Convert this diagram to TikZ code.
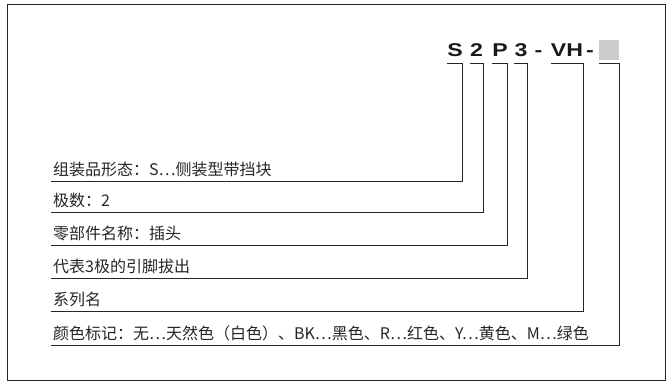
\documentclass[tikz,border=0pt]{standalone}
\usepackage{fontspec}
\setmainfont{Noto Sans CJK SC}
\newfontfamily\codefont{Liberation Sans}
\newcommand{\widecode}[1]{\scalebox{1.25}[1]{#1}}
\tikzset{
    code-char/.style = {inner sep=0pt, anchor=base, text height=13pt, text depth=7pt, font=\codefont\fontsize{18.5}{18.5}\selectfont\bfseries, text=black!90},
    code-box/.style = {fill=black!20, inner sep=0pt, minimum size=20pt},
    label-text/.style = {anchor=south west, inner xsep=2pt, inner ysep=0pt, text depth=5.5pt, font=\fontsize{16}{16}\selectfont, text=black!85},
    lead-line/.style = {draw=black!85, line width=0.9pt},
}

\begin{document}
\begin{tikzpicture}[x=1pt, y=-1pt]
\useasboundingbox (0,0) rectangle (668,381);
\draw[line width=1pt, black!85] (7.5,4) rectangle (665,380);

% part number
\node[code-char, minimum width=14pt] (cS) at (455,56) {\widecode{S}};
\node[code-char, minimum width=13pt] (c2) at (476.5,56) {\widecode{2}};
\node[code-char, minimum width=14pt] (cP) at (500,56) {\widecode{P}};
\node[code-char, minimum width=12pt] (c3) at (521,56) {\widecode{3}};
\node[code-char] (cDashA) at (538.5,56) {\widecode{-}};
\node[code-char, minimum width=28pt] (cVH) at (567,56) {\widecode{VH}};
\node[code-char] (cDashB) at (590,56) {\widecode{-}};
\node[code-box] (cColor) at (609,50) {};

% explanations
\node[label-text] (lForm) at (51,181.5) {组装品形态：S…侧装型带挡块};
\node[label-text] (lPoles) at (51,212) {极数：2};
\node[label-text] (lPart) at (51,245) {零部件名称：插头};
\node[label-text] (lPins) at (51,278) {代表3极的引脚拔出};
\node[label-text] (lSeries) at (51,311) {系列名};
\node[label-text] (lColor) at (51,345) {颜色标记：无…天然色（白色）、BK…黑色、R…红色、Y…黄色、M…绿色};

% leader lines
\draw[lead-line] (lForm.south west) -| (cS.south east) -- (cS.south west);
\draw[lead-line] (lPoles.south west) -| (c2.south east) -- (c2.south west);
\draw[lead-line] (lPart.south west) -| (cP.south east) -- (cP.south west);
\draw[lead-line] (lPins.south west) -| (c3.south east) -- (c3.south west);
\draw[lead-line] (lSeries.south west) -| (cVH.south east) -- (cVH.south west);
\draw[lead-line] (lColor.south west) -| ([yshift=-3pt]cColor.south east) -- ([yshift=-3pt]cColor.south west);
\end{tikzpicture}
\end{document}
